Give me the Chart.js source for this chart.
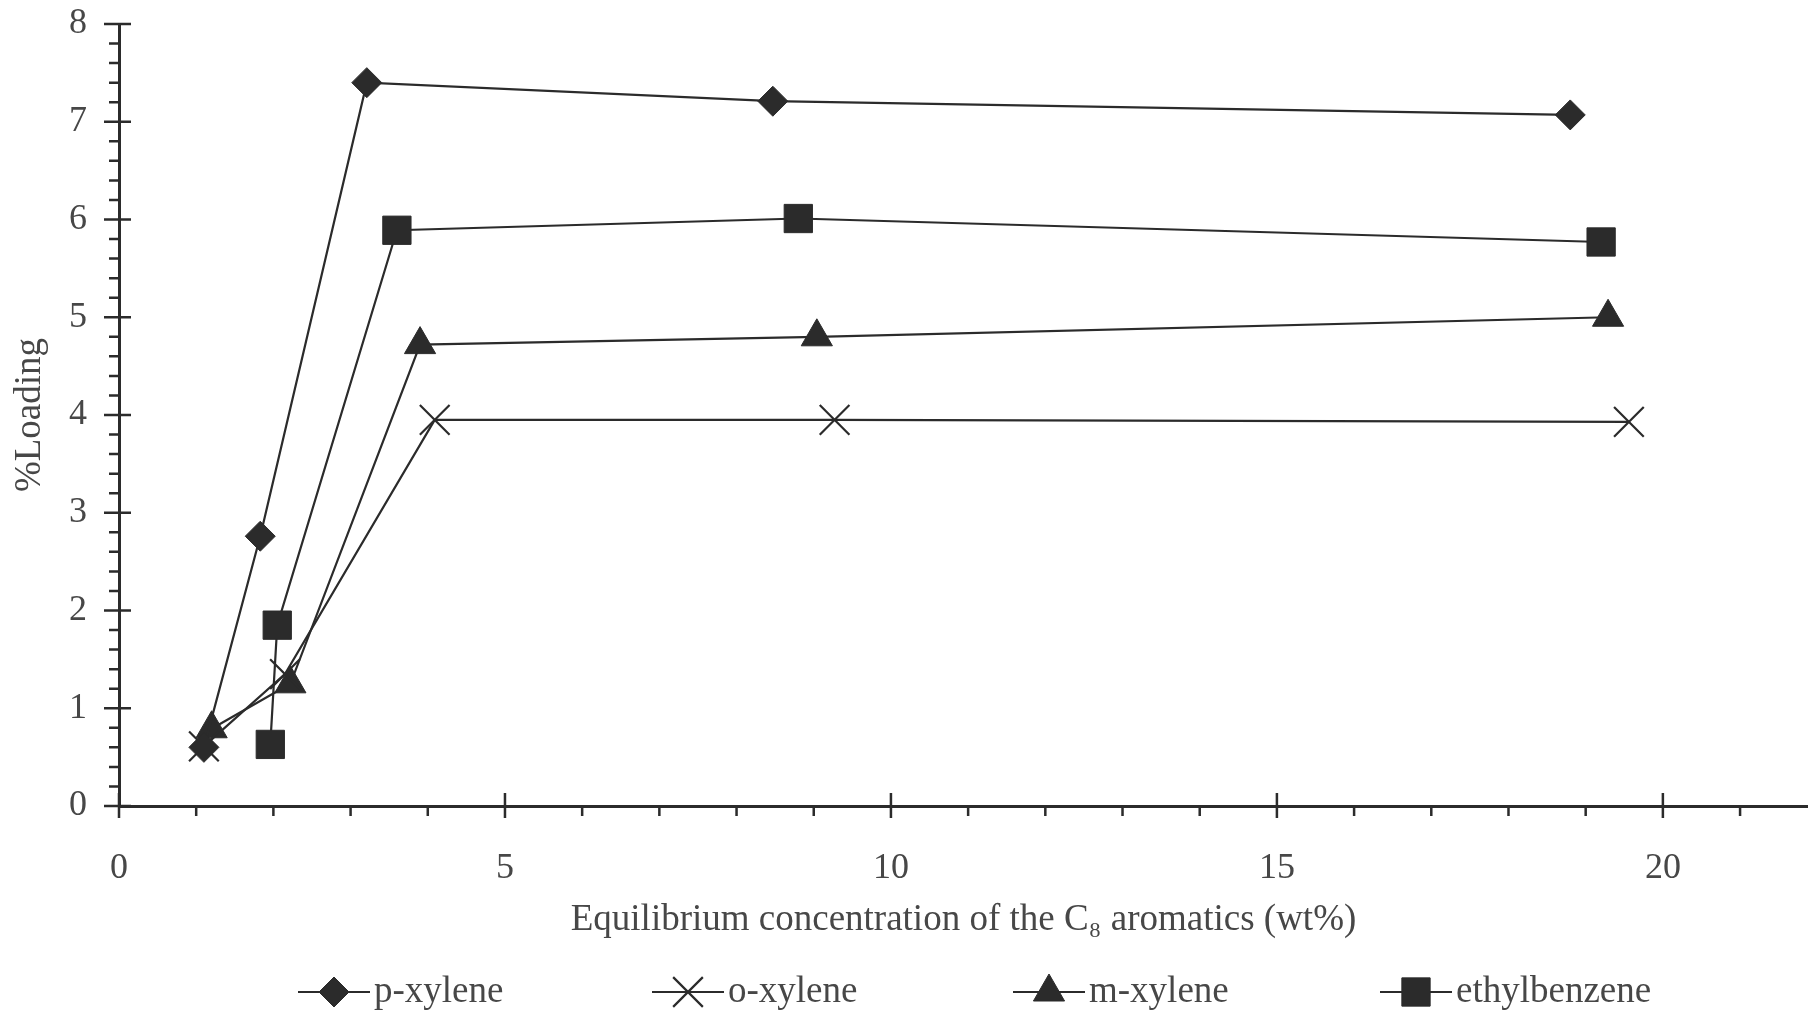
<!DOCTYPE html>
<html>
<head>
<meta charset="utf-8">
<script src="https://cdn.jsdelivr.net/npm/chart.js"></script>
<style>
  html, body { margin: 0; padding: 0; background: #ffffff; overflow: hidden; }
  #wrap { width: 1808px; height: 1014px; position: relative; }
</style>
</head>
<body>
<div id="wrap"><canvas id="loadingChart"></canvas></div>
<script>
// Adsorption loading vs. equilibrium concentration, one series per C8 aromatic
const seriesNames = ['p-xylene', 'o-xylene', 'm-xylene', 'ethylbenzene'];

const pXyleneX = [1.10, 1.83, 3.21, 8.47, 18.80];
const pXyleneY = [0.60, 2.76, 7.40, 7.21, 7.07];

const oXyleneX = [1.10, 2.15, 4.09, 9.27, 19.56];
const oXyleneY = [0.61, 1.35, 3.95, 3.95, 3.93];

const mXyleneX = [1.20, 2.22, 3.90, 9.04, 19.29];
const mXyleneY = [0.79, 1.25, 4.72, 4.80, 5.00];

const ethylbenzeneX = [1.96, 2.05, 3.60, 8.80, 19.20];
const ethylbenzeneY = [0.63, 1.85, 5.89, 6.01, 5.77];

const xTickLabels = [0, 5, 10, 15, 20];
const yTickLabels = [0, 1, 2, 3, 4, 5, 6, 7, 8];

const INK = '#2b2b2b';
const TEXT = '#474747';
const FONT = "'Liberation Serif', 'Times New Roman', serif";

function toPoints(xs, ys) {
  return xs.map((x, i) => ({ x: x, y: ys[i] }));
}

function makeSeries(label, xs, ys, style, radius) {
  return {
    label: label,
    data: toPoints(xs, ys),
    showLine: true,
    borderColor: INK,
    borderWidth: 2.2,
    backgroundColor: INK,
    pointStyle: style,
    pointRadius: radius,
    pointHoverRadius: radius,
    pointBorderColor: INK,
    pointBackgroundColor: INK,
    pointBorderWidth: style === 'crossRot' ? 2.2 : 1,
    clip: false
  };
}

const datasets = [
  makeSeries(seriesNames[0], pXyleneX, pXyleneY, 'rectRot', 15),
  makeSeries(seriesNames[1], oXyleneX, oXyleneY, 'crossRot', 21),
  makeSeries(seriesNames[2], mXyleneX, mXyleneY, 'triangle', 18),
  makeSeries(seriesNames[3], ethylbenzeneX, ethylbenzeneY, 'rect', 20)
];

// major ticks straddle the axis, minor ticks sit outside it
const tickMarks = {
  id: 'tickMarks',
  afterDraw(chart) {
    const ctx = chart.ctx;
    const xs = chart.scales.x;
    const ys = chart.scales.y;
    const left = chart.chartArea.left;
    const bottom = chart.chartArea.bottom;
    ctx.save();
    ctx.strokeStyle = INK;
    ctx.lineWidth = 2.5;
    ctx.beginPath();
    for (let i = 0; i <= 40; i++) {
      const v = i / 5;
      const py = ys.getPixelForValue(v);
      if (i % 5 === 0) {
        ctx.moveTo(left - 15, py);
        ctx.lineTo(left + 12, py);
      } else {
        ctx.moveTo(left - 10, py);
        ctx.lineTo(left, py);
      }
    }
    for (let v = 0; v <= Math.floor(xs.max); v++) {
      const px = xs.getPixelForValue(v);
      if (v % 5 === 0) {
        ctx.moveTo(px, bottom - 13);
        ctx.lineTo(px, bottom + 12);
      } else {
        ctx.moveTo(px, bottom);
        ctx.lineTo(px, bottom + 10);
      }
    }
    ctx.stroke();
    ctx.restore();
  }
};

// legend row along the bottom: short line with marker, then the name
const lineLegend = {
  id: 'lineLegend',
  afterDraw(chart) {
    const ctx = chart.ctx;
    const centers = [334, 688, 1049, 1416];
    const rowY = 992;
    ctx.save();
    chart.data.datasets.forEach((ds, i) => {
      const cx = centers[i];
      ctx.strokeStyle = INK;
      ctx.lineWidth = 2.2;
      ctx.beginPath();
      ctx.moveTo(cx - 36, rowY);
      ctx.lineTo(cx + 36, rowY);
      ctx.stroke();
      ctx.fillStyle = INK;
      ctx.strokeStyle = INK;
      ctx.lineWidth = ds.pointBorderWidth;
      Chart.helpers.drawPoint(ctx, {
        pointStyle: ds.pointStyle,
        radius: ds.pointRadius,
        rotation: 0,
        borderWidth: ds.pointBorderWidth
      }, cx, rowY);
      ctx.fillStyle = TEXT;
      ctx.font = '37px ' + FONT;
      ctx.textAlign = 'left';
      ctx.textBaseline = 'middle';
      ctx.fillText(ds.label, cx + 40, rowY);
    });
    ctx.restore();
  }
};

const ctx = document.getElementById('loadingChart').getContext('2d');
const chart = new Chart(ctx, {
  type: 'scatter',
  data: { datasets: datasets },
  options: {
    responsive: true,
    maintainAspectRatio: false,
    animation: false,
    layout: { autoPadding: false, padding: { top: 24, left: 0, right: 0, bottom: 0 } },
    plugins: {
      legend: { display: false },
      tooltip: { enabled: false }
    },
    scales: {
      x: {
        type: 'linear',
        min: 0,
        max: 21.88,
        afterFit: (scale) => {
          scale.height = 208;
          scale.paddingLeft = 0;
          scale.paddingRight = 0;
        },
        border: { display: true, color: INK, width: 3 },
        grid: { display: true, drawOnChartArea: false, drawTicks: false },
        ticks: {
          stepSize: 1,
          includeBounds: false,
          autoSkip: false,
          maxRotation: 0,
          padding: 41,
          color: TEXT,
          font: { family: FONT, size: 36 },
          callback: (value) => xTickLabels.includes(value) ? String(value) : ''
        },
        title: {
          display: true,
          text: 'Equilibrium concentration of the C\u2088 aromatics (wt%)',
          color: TEXT,
          font: { family: FONT, size: 37 },
          padding: { top: 0, bottom: 72 }
        }
      },
      y: {
        type: 'linear',
        min: 0,
        max: 8,
        afterFit: (scale) => {
          scale.width = 119;
          scale.paddingTop = 0;
          scale.paddingBottom = 0;
        },
        border: { display: true, color: INK, width: 3 },
        grid: { display: true, drawOnChartArea: false, drawTicks: false },
        ticks: {
          stepSize: 1,
          padding: 32,
          color: TEXT,
          font: { family: FONT, size: 36 },
          callback: (value) => yTickLabels.includes(value) ? String(value) : ''
        },
        title: {
          display: true,
          text: '%Loading',
          color: TEXT,
          font: { family: FONT, size: 37 },
          padding: { top: 8, bottom: 0 }
        }
      }
    }
  },
  plugins: [tickMarks, lineLegend]
});
</script>
</body>
</html>
